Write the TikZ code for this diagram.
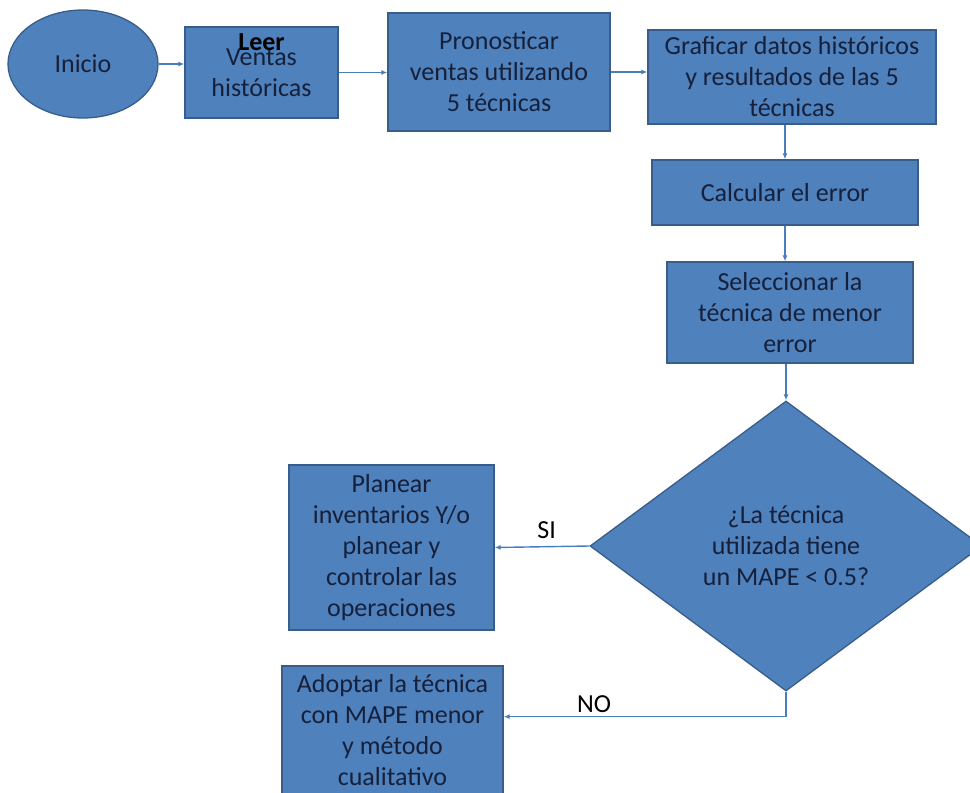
\documentclass[tikz,border=0pt]{standalone}
\usepackage{fontspec}
\setmainfont{Carlito}
\usepackage{xcolor}
\usepackage{tikz}
\usetikzlibrary{arrows.meta,positioning,shapes.geometric}

\definecolor{boxfill}{HTML}{4F81BD}
\definecolor{boxline}{HTML}{385D8A}
\definecolor{boxtext}{HTML}{16203A}
\definecolor{linkline}{HTML}{4A7EBB}

\begin{document}
\begin{tikzpicture}[x=1pt,y=-1pt,>=Latex,
  proc/.style={draw=boxline,fill=boxfill,line width=1.3pt,text=boxtext,
    align=center,inner sep=0pt,font=\fontsize{26}{31}\selectfont},
  link/.style={->,draw=linkline,line width=1.4pt,
    -{Latex[length=6pt,width=5pt]}},
  tag/.style={text=black,font=\fontsize{26}{31}\selectfont}]

\useasboundingbox (0,0) rectangle (970,793);

% Top row
\node[proc,ellipse,minimum width=150pt,minimum height=108pt] (inicio) at (83,64) {Inicio};
\node[proc,minimum width=153pt,minimum height=91pt] (ventas) at (261.5,72.5) {Ventas\\históricas};
\node[font=\fontsize{26}{31}\selectfont\bfseries,text=black] (leer) at (261.5,42) {Leer};
\node[proc,minimum width=222pt,minimum height=118pt] (pron) at (499,72) {Pronosticar\\ventas utilizando\\5 técnicas};
\node[proc,minimum width=288pt,minimum height=94pt] (graf) at (792,77) {Graficar datos históricos\\y resultados de las 5\\técnicas};

% Right column
\node[proc,minimum width=266pt,minimum height=65pt] (calc) at (785,192.5) {Calcular el error};
\node[proc,minimum width=246pt,minimum height=101pt] (selec) at (790,312.5) {Seleccionar la\\técnica de menor\\error};
\node[proc,diamond,minimum width=392pt,minimum height=290pt] (dec) at (786,546) {¿La técnica\\utilizada tiene\\un MAPE < 0.5?};

% Outcomes
\node[proc,minimum width=205pt,minimum height=165pt] (plan) at (391.5,547.5) {Planear\\inventarios Y/o\\planear y\\controlar las\\operaciones};
\node[proc,minimum width=221pt,minimum height=128pt] (adop) at (392.5,730) {Adoptar la técnica\\con MAPE menor\\y método\\cualitativo};

% Connectors
\draw[link] (inicio.east) -- (inicio.east -| ventas.west);
\draw[link] (ventas.east) -- (ventas.east -| pron.west);
\draw[link] (pron.east) -- (pron.east -| graf.west);
\draw[link] (calc.north |- graf.south) -- (calc.north);
\draw[link] (calc.south) -- (calc.south |- selec.north);
\draw[link] (dec.north |- selec.south) -- (dec.north);
\draw[link] (dec.west) -- node[tag,above=4pt,pos=0.45] (si) {SI} (plan.east);
\draw[link] (dec.south) -- ++(0,25) coordinate (nobend)
  -- node[tag,above=0pt,pos=0.68] (no) {NO} (nobend -| adop.east);

\end{tikzpicture}
\end{document}
